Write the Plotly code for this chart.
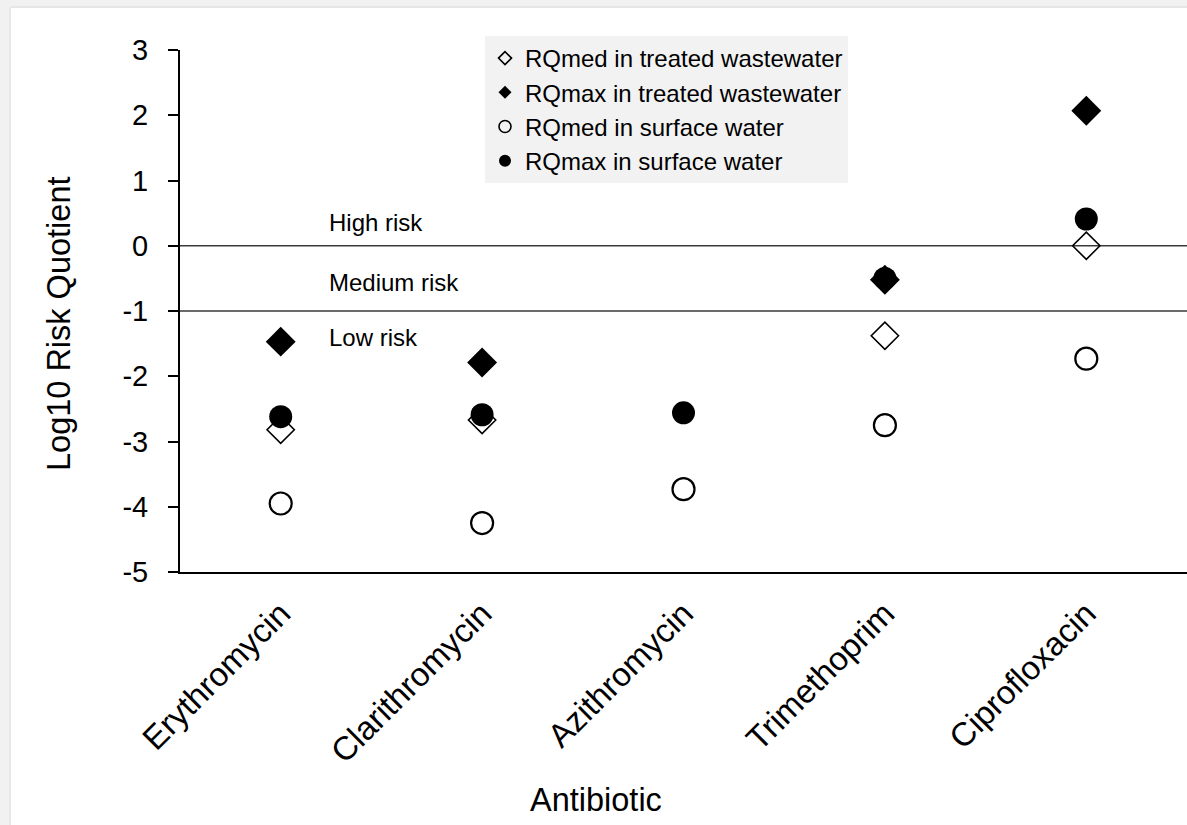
import plotly.graph_objects as go

# Antibiotics on the x axis
antibiotics = ["Erythromycin", "Clarithromycin", "Azithromycin", "Trimethoprim", "Ciprofloxacin"]

# Log10 risk quotients per antibiotic (None = not determined)
rq_med_treated = [-2.82, -2.67, None, -1.38, 0.00]
rq_max_treated = [-1.47, -1.79, None, -0.52, 2.07]
rq_med_surface = [-3.95, -4.25, -3.73, -2.75, -1.73]
rq_max_surface = [-2.62, -2.59, -2.56, -0.50, 0.41]

# Risk class thresholds and their labels
risk_thresholds = [0, -1]
risk_labels = ["High risk", "Medium risk", "Low risk"]
risk_label_y = [0.35, -0.57, -1.40]

# y axis ticks
y_ticks = [3, 2, 1, 0, -1, -2, -3, -4, -5]
y_tick_text = ["3", "2", "1", "0", "-1", "-2", "-3", "-4", "-5"]

series = [
    ("RQmed in treated wastewater", rq_med_treated, "diamond-open", 21, 10, 1.6),
    ("RQmax in treated wastewater", rq_max_treated, "diamond", 23, 10, 0),
    ("RQmed in surface water", rq_med_surface, "circle-open", 22, 12, 2.2),
    ("RQmax in surface water", rq_max_surface, "circle", 23, 12, 0),
]

FONT = "Liberation Sans, Arial, sans-serif"
W, H = 1187, 825
ML, MR, MT, MB = 180, 0, 50, 253

fig = go.Figure()

for name, vals, sym, size, leg_size, lw in series:
    fig.add_trace(go.Scatter(
        x=antibiotics, y=vals, mode="markers", name=name, showlegend=False,
        marker=dict(symbol=sym, size=size, color="black",
                    line=dict(color="black", width=lw)),
        hoverinfo="x+y+name",
    ))

# legend entries with small symbols
for name, vals, sym, size, leg_size, lw in series:
    fig.add_trace(go.Scatter(
        x=[None], y=[None], mode="markers", name=name, showlegend=True,
        marker=dict(symbol=sym, size=leg_size, color="black",
                    line=dict(color="black", width=min(lw, 1.6) if lw else 0)),
    ))

shapes = []
for t in risk_thresholds:
    shapes.append(dict(type="line", xref="paper", yref="y", x0=0, x1=1, y0=t, y1=t,
                       line=dict(color="#3a3a3a", width=1.3), layer="below"))

# light frame along the top and left edges of the page
pw = W - ML - MR
ph = H - MT - MB
def px_x(p):
    return (p - ML) / pw
def px_y(p):
    return (H - MB - p) / ph
shapes.append(dict(type="rect", xref="paper", yref="paper",
                   x0=px_x(0), x1=px_x(W), y0=px_y(0), y1=px_y(7),
                   fillcolor="#f1f1f1", line=dict(width=0), layer="below"))
shapes.append(dict(type="line", xref="paper", yref="paper",
                   x0=px_x(10), x1=px_x(W), y0=px_y(7), y1=px_y(7),
                   line=dict(color="#e6e6e6", width=2), layer="below"))
shapes.append(dict(type="rect", xref="paper", yref="paper",
                   x0=px_x(0), x1=px_x(10), y0=px_y(0), y1=px_y(H),
                   fillcolor="#f1f1f1", line=dict(width=0), layer="below"))
shapes.append(dict(type="line", xref="paper", yref="paper",
                   x0=px_x(10), x1=px_x(10), y0=px_y(7), y1=px_y(H),
                   line=dict(color="#e8e8e8", width=2), layer="below"))

annotations = []
for lab, yv in zip(risk_labels, risk_label_y):
    annotations.append(dict(x=0.23, y=yv, xref="x", yref="y", text=lab,
                            showarrow=False, xanchor="left", yanchor="middle",
                            font=dict(family=FONT, size=24, color="black")))
annotations.append(dict(x=px_x(596), y=px_y(800), xref="paper", yref="paper",
                        text="Antibiotic", showarrow=False,
                        xanchor="center", yanchor="middle",
                        font=dict(family=FONT, size=32.5, color="black")))
annotations.append(dict(x=px_x(59), y=px_y(324), xref="paper", yref="paper",
                        text="Log10 Risk Quotient", showarrow=False, textangle=-90,
                        xanchor="center", yanchor="middle",
                        font=dict(family=FONT, size=32.5, color="black")))

fig.update_layout(
    width=W, height=H,
    margin=dict(l=ML, r=MR, t=MT, b=MB, pad=0),
    paper_bgcolor="white", plot_bgcolor="white",
    font=dict(family=FONT, color="black"),
    shapes=shapes, annotations=annotations,
    legend=dict(x=px_x(485), y=px_y(36), xanchor="left", yanchor="top",
                bgcolor="#f2f2f2", borderwidth=0,
                font=dict(family=FONT, size=24, color="black"),
                itemclick=False, itemdoubleclick=False),
    xaxis=dict(type="category", range=[-0.5, 4.5], showline=True, linecolor="black",
               linewidth=2, ticks="", showgrid=False, zeroline=False, tickangle=-45,
               tickfont=dict(family=FONT, size=33, color="black"),
               ticklabelstandoff=7),
    yaxis=dict(range=[-5, 3], tickvals=y_ticks, ticktext=y_tick_text,
               showline=True, linecolor="black", linewidth=2,
               ticks="outside", ticklen=10, tickwidth=2, tickcolor="black",
               showgrid=False, zeroline=False,
               tickfont=dict(family=FONT, size=29, color="black"),
               ticklabelstandoff=14),
)

fig.write_html("out.html")
